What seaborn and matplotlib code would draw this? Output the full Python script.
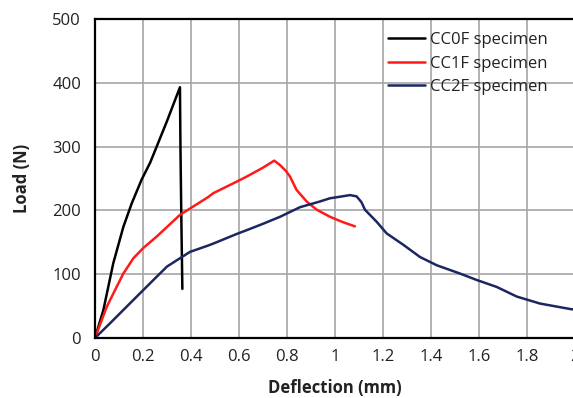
import pandas as pd
import numpy as np
import matplotlib.pyplot as plt
import seaborn as sns

# deflection (mm) / load (N)
cc0f_x = [0.0, 0.035, 0.076, 0.118, 0.153, 0.194, 0.230, 0.257, 0.300, 0.354, 0.356, 0.360, 0.364]
cc0f_y = [0, 44, 117, 174, 211, 248, 275, 300, 340, 393, 300, 180, 77]

cc1f_x = [0.0, 0.049, 0.090, 0.118, 0.160, 0.201, 0.257, 0.354, 0.472, 0.493, 0.590, 0.632, 0.700,
          0.747, 0.771, 0.795, 0.8125, 0.840, 0.882, 0.924, 0.979, 1.030, 1.083]
cc1f_y = [0, 49, 80, 101, 125, 141, 159, 193, 221, 227, 245, 253, 267,
          278, 271, 262, 253, 232, 214, 201, 190, 182, 175]

cc2f_x = [0.0, 0.0625, 0.1875, 0.257, 0.300, 0.354, 0.396, 0.472, 0.493, 0.590, 0.632, 0.700,
          0.771, 0.854, 0.9375, 0.979, 1.030, 1.0625, 1.090, 1.110, 1.125, 1.174, 1.215, 1.285,
          1.354, 1.424, 1.521, 1.590, 1.674, 1.757, 1.854, 1.986, 2.0]
cc2f_y = [0, 23, 70, 96, 112, 125, 135, 145, 148, 163, 169, 179,
          190, 205, 214, 219, 222, 224, 222, 213, 201, 182, 164, 146,
          127, 114, 101, 91, 80, 65, 54, 45, 45]

x_ticks = [0, 0.2, 0.4, 0.6, 0.8, 1, 1.2, 1.4, 1.6, 1.8, 2]
x_labels = ['0', '0.2', '0.4', '0.6', '0.8', '1', '1.2', '1.4', '1.6', '1.8', '2']
y_ticks = [0, 100, 200, 300, 400, 500]

sns.set_style('whitegrid')
plt.rcParams['font.family'] = ['Open Sans', 'DejaVu Sans']

fig = plt.figure(figsize=(5.73, 3.98), dpi=100)
ax = fig.add_axes([95 / 573, 1 - 338 / 398, 480 / 573, 319 / 398])

series = [('CC0F specimen', cc0f_x, cc0f_y, 'black'),
          ('CC1F specimen', cc1f_x, cc1f_y, '#ff1a1a'),
          ('CC2F specimen', cc2f_x, cc2f_y, '#1c2660')]
for name, xs, ys, col in series:
    df = pd.DataFrame({'x': xs, 'y': ys})
    sns.lineplot(data=df, x='x', y='y', sort=False, estimator=None, color=col,
                 linewidth=1.8, label=name, ax=ax)

ax.set_xlim(0, 2)
ax.set_ylim(0, 500)
ax.set_xticks(x_ticks)
ax.set_xticklabels(x_labels)
ax.set_yticks(y_ticks)
ax.tick_params(length=0, labelsize=12, colors='#222222')
ax.tick_params(axis='x', pad=8)
ax.tick_params(axis='y', pad=10)
ax.grid(True, color='#a6a6a6', linewidth=1.2)
for s in ax.spines.values():
    s.set_color('black')
    s.set_linewidth(1.6)

ax.set_xlabel('Deflection (mm)', fontsize=12, fontweight='bold', color='#222222', labelpad=10)
ax.set_ylabel('Load (N)', fontsize=12, fontweight='bold', color='#222222', labelpad=15)

ax.legend(loc='upper left', bbox_to_anchor=(388 / 573, 1 - 32 / 398),
          bbox_transform=fig.transFigure, frameon=False, fontsize=12,
          borderaxespad=0, borderpad=0, handlelength=2.2, handletextpad=0.35,
          labelspacing=0.45, labelcolor='#222222')

fig.savefig('out.png', dpi=100)
